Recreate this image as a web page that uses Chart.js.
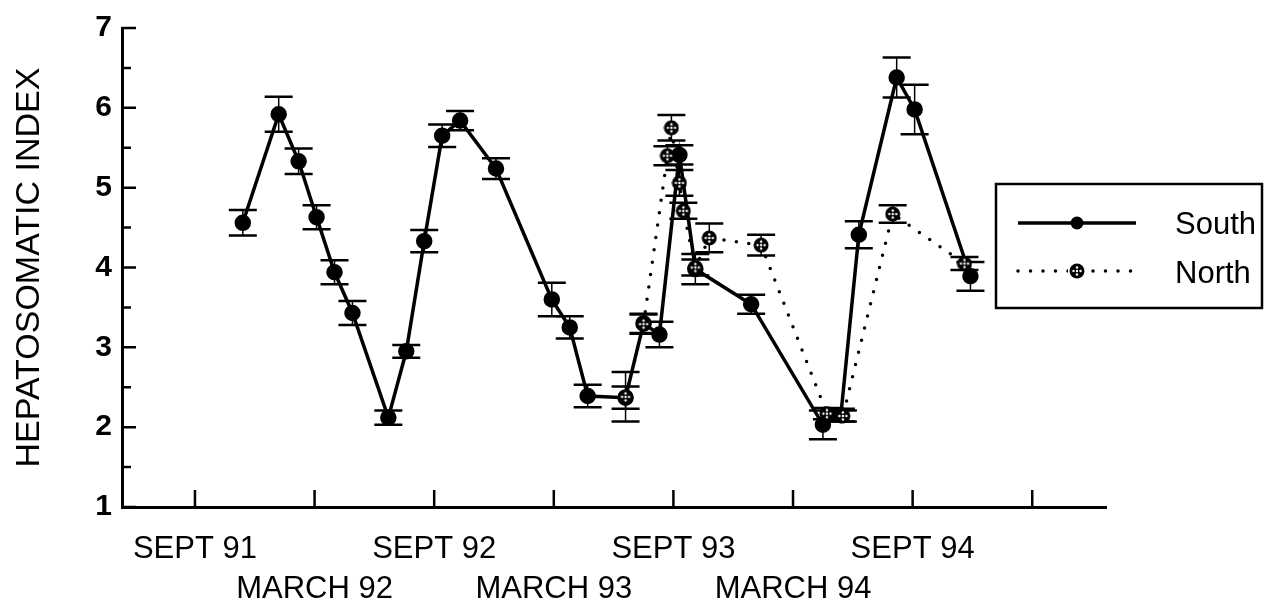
<!DOCTYPE html>
<html>
<head>
<meta charset="utf-8">
<script src="https://cdn.jsdelivr.net/npm/chart.js@4"></script>
<style>
  html, body { margin: 0; padding: 0; background: #fff; }
  #wrap { width: 1280px; height: 606px; }
</style>
</head>
<body>
<div id="wrap"><canvas id="hsi-chart"></canvas></div>
<script>
// x values are months counted from September 1991
const tickMonths = [0, 6, 12, 18, 24, 30, 36, 42]
const tickLabels = ['SEPT 91', 'MARCH 92', 'SEPT 92', 'MARCH 93', 'SEPT 93', 'MARCH 94', 'SEPT 94', '']

const southMonths = [2.4, 4.2, 5.2, 6.1, 7.0, 7.9, 9.7, 10.6, 11.5, 12.4, 13.3, 15.1, 17.9, 18.8, 19.7,
    21.6, 22.5, 23.3, 24.3, 25.1, 27.9, 31.5, 32.4, 33.3, 35.2, 36.1, 38.9]
const southHSI = [4.56, 5.92, 5.33, 4.63, 3.94, 3.43, 2.12, 2.95, 4.33, 5.65, 5.84, 5.24, 3.60, 3.25, 2.39,
    2.37, 3.30, 3.16, 5.41, 3.98, 3.54, 2.03, 2.15, 4.41, 6.38, 5.98, 3.89]
const southErr = [0.16, 0.22, 0.16, 0.15, 0.15, 0.15, 0.09, 0.08, 0.14, 0.14, 0.12, 0.13, 0.21, 0.14, 0.14,
    0.14, 0.12, 0.16, 0.12, 0.19, 0.12, 0.18, 0.08, 0.17, 0.25, 0.31, 0.18]

const northMonths = [21.6, 22.5, 23.7, 23.9, 24.3, 24.5, 25.1, 25.8, 28.4, 31.7, 32.5, 35.0, 38.6]
const northHSI = [2.38, 3.29, 5.40, 5.75, 5.06, 4.71, 4.00, 4.37, 4.28, 2.17, 2.14, 4.67, 4.05]
const northErr = [0.31, 0.12, 0.12, 0.16, 0.16, 0.10, 0.10, 0.18, 0.13, 0.07, 0.07, 0.11, 0.08]

const FONT = "'Liberation Sans', Arial, sans-serif"

// black round marker with white speckles for North
function speckledDot() {
    const c = document.createElement('canvas')
    c.width = 16
    c.height = 16
    const g = c.getContext('2d')
    g.fillStyle = '#000'
    g.beginPath()
    g.arc(8, 8, 7.5, 0, Math.PI * 2)
    g.fill()
    g.fillStyle = '#fff'
    const spots = [[8, 4.5], [4.5, 8], [11.5, 8], [8, 11.5], [8, 8]]
    spots.forEach(s => {
        g.beginPath()
        g.arc(s[0], s[1], 1.2, 0, Math.PI * 2)
        g.fill()
    })
    return c
}
const northDot = speckledDot()

function toPoints(xs, ys) {
    return xs.map((v, i) => ({ x: v, y: ys[i] }))
}

const errorBars = {
    id: 'errorBars',
    beforeDatasetsDraw(chart) {
        const ctx = chart.ctx
        const xs = chart.scales.x
        const ys = chart.scales.y
        const errs = [southErr, northErr]
        ctx.save()
        ctx.strokeStyle = '#000'
        chart.data.datasets.forEach((ds, d) => {
            ds.data.forEach((p, i) => {
                const px = xs.getPixelForValue(p.x)
                const top = ys.getPixelForValue(p.y + errs[d][i])
                const bot = ys.getPixelForValue(p.y - errs[d][i])
                ctx.lineWidth = 1.5
                ctx.beginPath()
                ctx.moveTo(px, top)
                ctx.lineTo(px, bot)
                ctx.stroke()
                ctx.lineWidth = 2.5
                ctx.beginPath()
                ctx.moveTo(px - 14, top)
                ctx.lineTo(px + 14, top)
                ctx.moveTo(px - 14, bot)
                ctx.lineTo(px + 14, bot)
                ctx.stroke()
            })
        })
        ctx.restore()
    }
}

// tick marks point into the plot, with half-unit minor ticks on y
const innerTicks = {
    id: 'innerTicks',
    afterDraw(chart) {
        const ctx = chart.ctx
        const xs = chart.scales.x
        const ys = chart.scales.y
        const area = chart.chartArea
        ctx.save()
        ctx.strokeStyle = '#000'
        ctx.lineWidth = 2.5
        ctx.beginPath()
        xs.ticks.forEach(t => {
            const px = xs.getPixelForValue(t.value)
            ctx.moveTo(px, area.bottom)
            ctx.lineTo(px, area.bottom - 17)
        })
        for (let v = ys.min; v <= ys.max; v += 0.5) {
            const py = ys.getPixelForValue(v)
            const len = Number.isInteger(v) ? 14 : 9
            ctx.moveTo(area.left, py)
            ctx.lineTo(area.left + len, py)
        }
        ctx.stroke()
        ctx.restore()
    }
}

const boxLegend = {
    id: 'boxLegend',
    afterDraw(chart) {
        const ctx = chart.ctx
        const sets = chart.data.datasets
        ctx.save()
        ctx.strokeStyle = '#000'
        ctx.lineWidth = 2.5
        ctx.strokeRect(996, 184, 266, 124)

        ctx.lineWidth = 3.5
        ctx.beginPath()
        ctx.moveTo(1018, 223)
        ctx.lineTo(1136, 223)
        ctx.stroke()
        ctx.fillStyle = '#000'
        ctx.beginPath()
        ctx.arc(1077, 223, 6.5, 0, Math.PI * 2)
        ctx.fill()

        ctx.setLineDash([0, 12.5])
        ctx.lineCap = 'round'
        ctx.beginPath()
        ctx.moveTo(1018, 271)
        ctx.lineTo(1136, 271)
        ctx.stroke()
        ctx.setLineDash([])
        ctx.fillStyle = '#fff'
        ctx.fillRect(1068, 262, 18, 18)
        ctx.drawImage(northDot, 1069, 263)

        ctx.fillStyle = '#000'
        ctx.font = '31px ' + FONT
        ctx.textBaseline = 'middle'
        ctx.fillText(sets[0].label, 1175, 225)
        ctx.fillText(sets[1].label, 1175, 274)
        ctx.restore()
    }
}

new Chart(document.querySelector('#hsi-chart'), {
    type: 'scatter',
    data: {
        datasets: [{
            label: 'South',
            data: toPoints(southMonths, southHSI),
            showLine: true,
            borderColor: '#000',
            borderWidth: 3.5,
            backgroundColor: '#000',
            pointRadius: 6.5,
            pointHoverRadius: 6.5,
            order: 1
        }, {
            label: 'North',
            data: toPoints(northMonths, northHSI),
            showLine: true,
            borderColor: '#000',
            borderWidth: 3.5,
            borderDash: [0, 12.5],
            borderCapStyle: 'round',
            pointStyle: northDot,
            order: 0
        }]
    },
    options: {
        responsive: true,
        maintainAspectRatio: false,
        animation: false,
        layout: { padding: { left: 0, top: 21, right: 174, bottom: 0 } },
        plugins: {
            legend: { display: false },
            tooltip: { enabled: false }
        },
        scales: {
            x: {
                type: 'linear',
                min: -3.66,
                max: 45.7,
                afterFit: s => { s.height = 99 },
                afterBuildTicks: s => { s.ticks = tickMonths.map(v => ({ value: v })) },
                grid: { drawOnChartArea: false, drawTicks: false },
                border: { color: '#000', width: 3 },
                ticks: {
                    autoSkip: false,
                    maxRotation: 0,
                    minRotation: 0,
                    padding: 23,
                    color: '#000',
                    font: { family: FONT, size: 31, lineHeight: 1.27 },
                    callback: (v) => {
                        const i = tickMonths.indexOf(v)
                        if (i < 0) return ''
                        return i % 2 ? ['', tickLabels[i]] : tickLabels[i]
                    }
                }
            },
            y: {
                min: 1,
                max: 7,
                afterFit: s => { s.width = 122 },
                grid: { drawOnChartArea: false, drawTicks: false },
                border: { color: '#000', width: 3 },
                ticks: {
                    stepSize: 1,
                    padding: 10,
                    color: '#000',
                    font: { family: FONT, size: 30, weight: 'bold' }
                },
                title: {
                    display: true,
                    text: 'HEPATOSOMATIC INDEX',
                    color: '#000',
                    padding: { top: 9, bottom: 0 },
                    font: { family: FONT, size: 34 }
                }
            }
        }
    },
    plugins: [errorBars, innerTicks, boxLegend]
})
</script>
</body>
</html>
